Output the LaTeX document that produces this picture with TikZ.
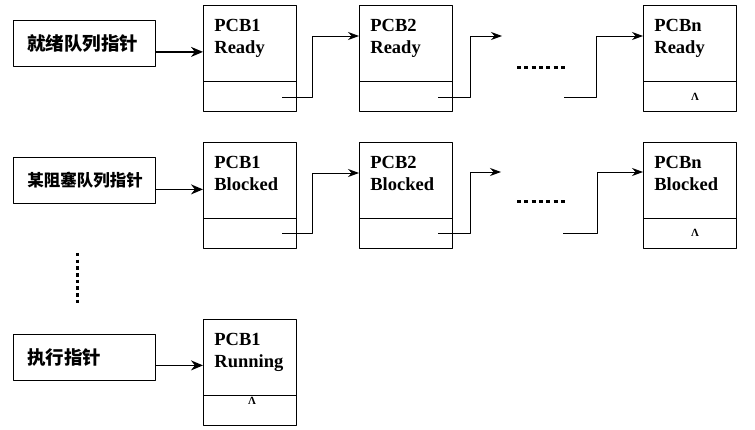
\documentclass[tikz,border=0pt]{standalone}
\usepackage{fontspec}
\setmainfont{Liberation Serif}
\newfontfamily\cjk{Noto Sans CJK SC}
\usetikzlibrary{arrows.meta}
\tikzset{
  ptrbox/.style={draw,anchor=north west,minimum height=46pt,text width=114pt,inner xsep=14pt,align=left},
  pcbbox/.style={draw,anchor=north west,minimum width=93pt,minimum height=106pt,inner sep=0pt},
  pcbtext/.style={anchor=north west,inner sep=0pt,align=left,font=\bfseries\fontsize{18.5}{22}\selectfont},
  nilmark/.style={inner sep=0pt,font=\bfseries\fontsize{11}{11}\selectfont},
  headptr/.style={line width=1.6pt,-{Stealth[length=12pt,width=10pt]}},
  link/.style={line width=0.8pt,-{Stealth[length=11pt,width=8pt]}},
  hdots/.style={line width=3pt,dash pattern=on 4pt off 3.33pt},
  vdots/.style={line width=3pt,dash pattern=on 3.5pt off 3.2pt}
}
\begin{document}
\begin{tikzpicture}[x=1pt,y=-1pt,line join=round,line width=0.8pt]
\useasboundingbox (0,0) rectangle (755,430);
% ready queue
\node[ptrbox,font=\cjk\bfseries\fontsize{18.5}{18.5}\selectfont] (rq) at (13,20) {就绪队列指针};
\node[pcbbox] (r1) at (203,5) {};
\node[pcbbox] (r2) at (359,5) {};
\node[pcbbox] (rn) at (643,5) {};
\node[pcbtext] (r1t) at (214,19) {PCB1\\Ready};
\node[pcbtext] (r2t) at (370,19) {PCB2\\Ready};
\node[pcbtext] (rnt) at (654,19) {PCBn\\Ready};
\draw ([yshift=30pt]r1.south west) -- ([yshift=30pt]r1.south east);
\draw ([yshift=30pt]r2.south west) -- ([yshift=30pt]r2.south east);
\draw ([yshift=30pt]rn.south west) -- ([yshift=30pt]rn.south east);
\node[nilmark] (rnil) at (695,97) {Λ};
\coordinate (r1o) at (282,97);
\coordinate (r2o) at (438,97);
\coordinate (r2e) at (502,36);
\coordinate (rdo) at (564,97);
\draw[headptr] ([yshift=-8.5pt]rq.east) -- ([yshift=-8.5pt]rq.east -| r1.west);
\draw[link] (r1o) -- ++(30,0) |- ([yshift=-31pt]r2.north west);
\draw[link] (r2o) -- ++(32,0) |- (r2e);
\draw[link] (rdo) -- ++(32,0) |- ([yshift=-31pt]rn.north west);
\draw[hdots] (517,68) -- (565,68);
% blocked queue
\node[ptrbox,font=\cjk\bfseries\fontsize{16.5}{16.5}\selectfont] (bq) at (13,157) {某阻塞队列指针};
\node[pcbbox] (b1) at (203,142) {};
\node[pcbbox] (b2) at (359,142) {};
\node[pcbbox] (bn) at (643,142) {};
\node[pcbtext] (b1t) at (214,156) {PCB1\\Blocked};
\node[pcbtext] (b2t) at (370,156) {PCB2\\Blocked};
\node[pcbtext] (bnt) at (654,156) {PCBn\\Blocked};
\draw ([yshift=30pt]b1.south west) -- ([yshift=30pt]b1.south east);
\draw ([yshift=30pt]b2.south west) -- ([yshift=30pt]b2.south east);
\draw ([yshift=30pt]bn.south west) -- ([yshift=30pt]bn.south east);
\node[nilmark] (bnil) at (695,233) {Λ};
\coordinate (b1o) at (282,233);
\coordinate (b2o) at (438,233);
\coordinate (b2e) at (501,172);
\coordinate (bdo) at (563,233);
\draw[headptr] ([yshift=-9pt]bq.east) -- ([yshift=-9pt]bq.east -| b1.west);
\draw[link] (b1o) -- ++(30,0) |- ([yshift=-31pt]b2.north west);
\draw[link] (b2o) -- ++(32,0) |- (b2e);
\draw[link] (bdo) -- ++(34,0) |- ([yshift=-30pt]bn.north west);
\draw[hdots] (517,202) -- (565,202);
\draw[vdots] (77,253) -- (77,306);
% running
\node[ptrbox,font=\cjk\bfseries\fontsize{18.5}{18.5}\selectfont] (xq) at (13,334) {执行指针};
\node[pcbbox] (x1) at (203,319) {};
\node[pcbtext] (x1t) at (214,333) {PCB1\\Running};
\draw ([yshift=30pt]x1.south west) -- ([yshift=30pt]x1.south east);
\node[nilmark] (xnil) at (252,401) {Λ};
\draw[headptr] ([yshift=-8pt]xq.east) -- ([yshift=-8pt]xq.east -| x1.west);
\end{tikzpicture}
\end{document}
